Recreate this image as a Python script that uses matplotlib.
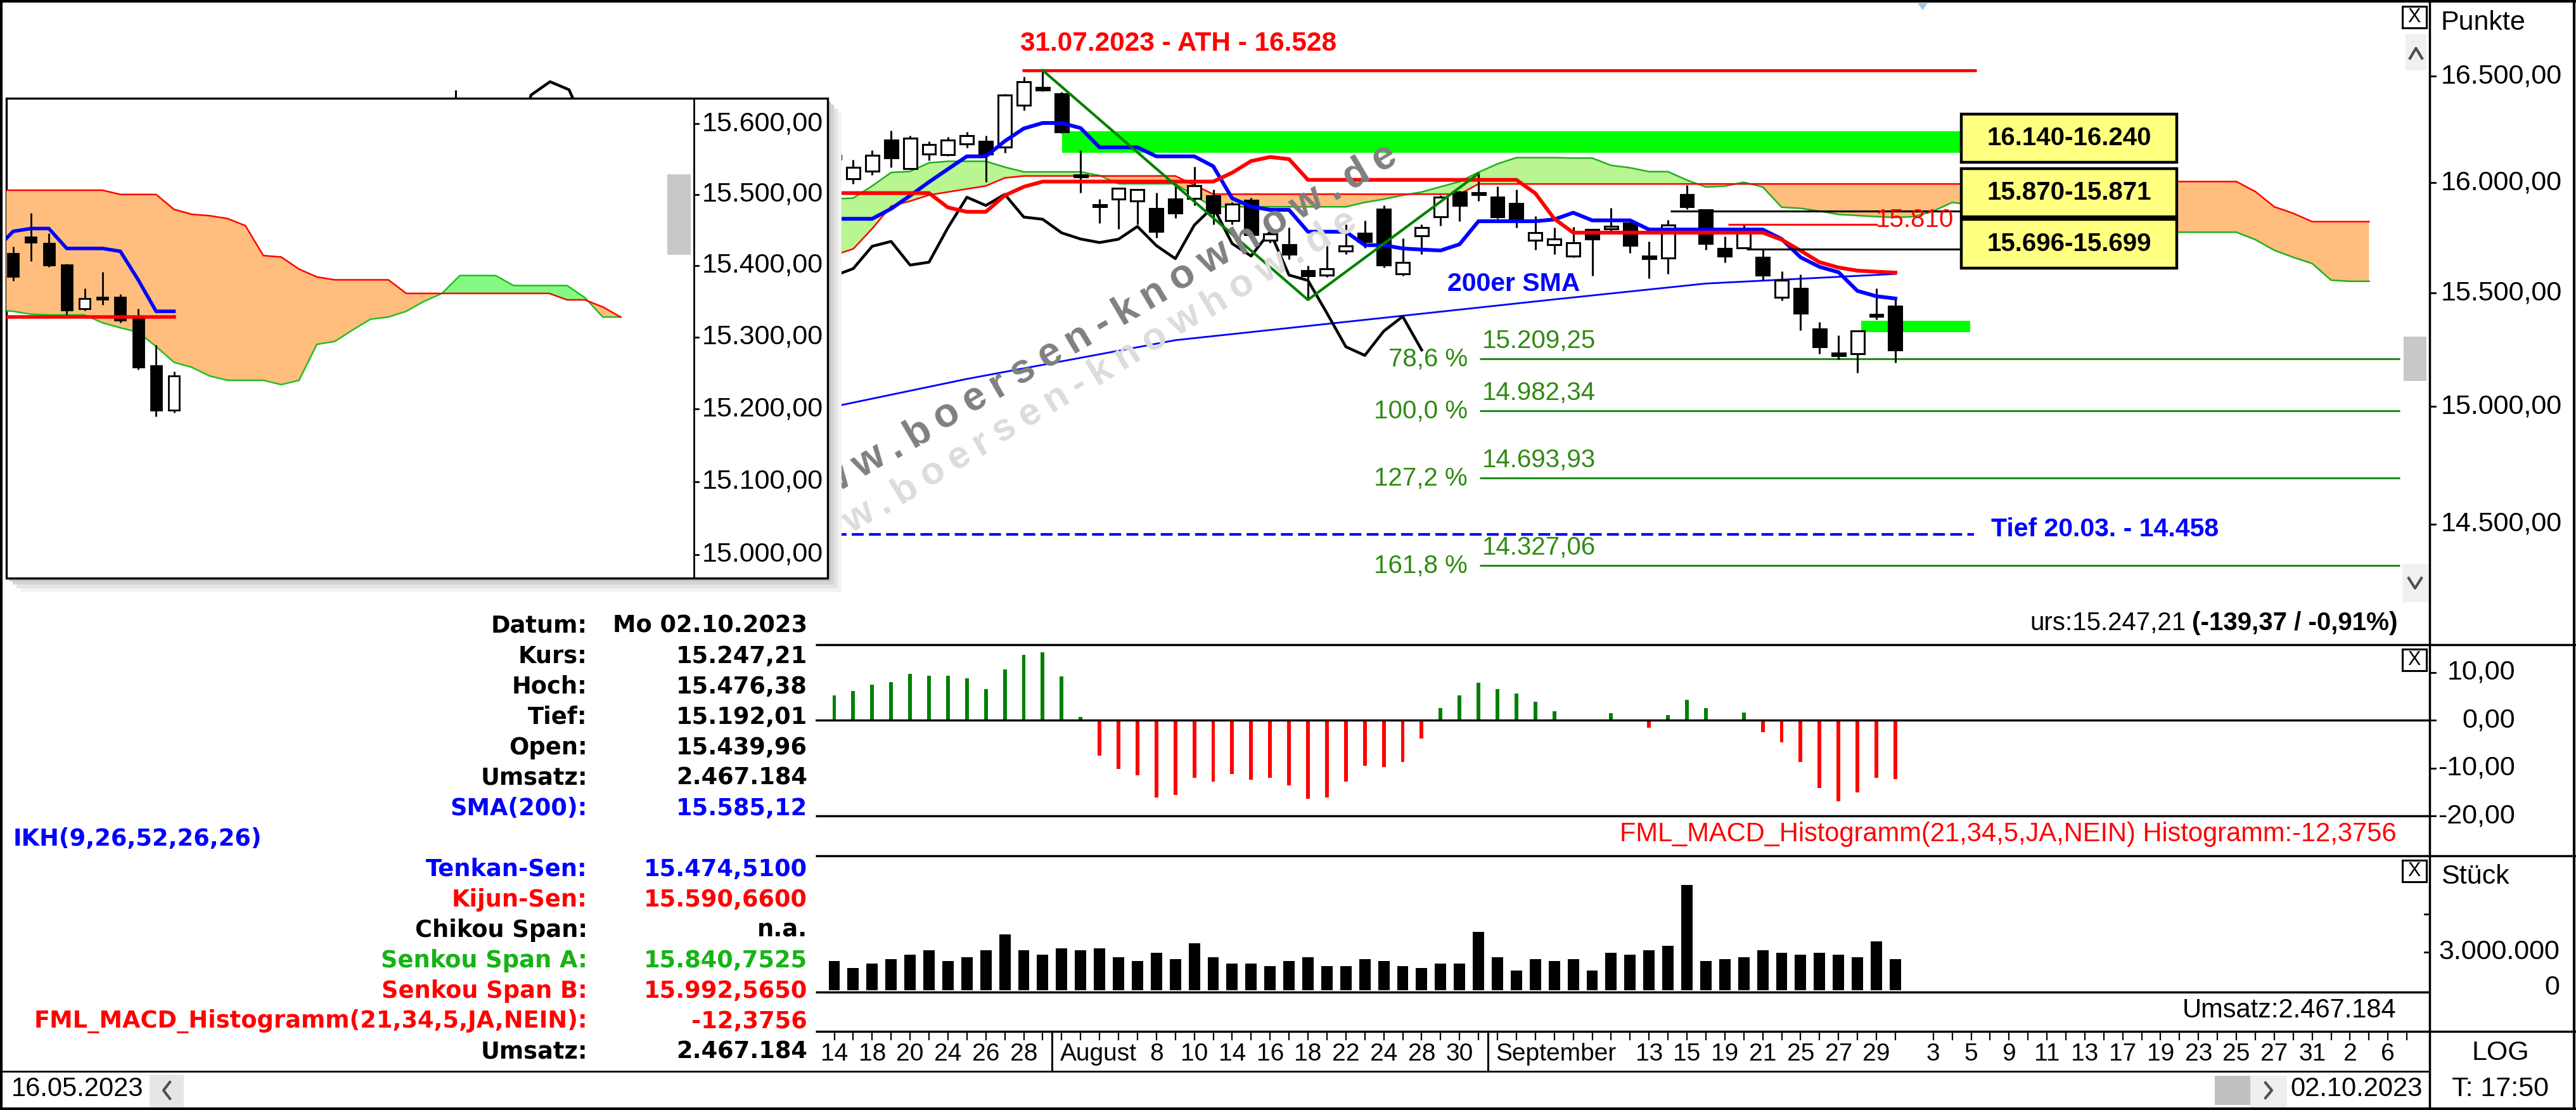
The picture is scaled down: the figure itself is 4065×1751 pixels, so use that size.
import numpy as np
import matplotlib
matplotlib.use("Agg")
import matplotlib.pyplot as plt
from matplotlib.patches import Rectangle, Polygon
from matplotlib.transforms import offset_copy
from matplotlib import font_manager

plt.rcParams["font.family"] = ["Liberation Sans", "DejaVu Sans"]

# DAX daily, bar 0 = 14.07.2023 ... bar 56 = 02.10.2023
opens = [16128, 16018, 16053, 16199, 16067, 16134, 16131, 16182, 16193, 16167,
         16363, 16446, 16417, 16038, 15898, 15926, 15917, 15881, 15926, 15929,
         15939, 15828, 15920, 15737, 15718, 15600, 15581, 15689, 15768, 15879,
         15585, 15758, 15843, 15958, 15955, 15934, 15905, 15737, 15718, 15666,
         15786, 15790, 15814, 15665, 15656, 15947, 15877, 15699, 15703, 15660,
         15481, 15521, 15339, 15232, 15231, 15405, 15440]
highs = [16150, 16106, 16152, 16244, 16219, 16193, 16214, 16236, 16221, 16416,
         16497, 16528, 16427, 16150, 15926, 15979, 15972, 15954, 15996, 16075,
         15968, 15911, 15930, 15795, 15795, 15623, 15718, 15808, 15828, 15897,
         15747, 15808, 15944, 15963, 16043, 15983, 15968, 15848, 15795, 15797,
         15790, 15884, 15818, 15731, 15829, 15991, 15880, 15755, 15811, 15699,
         15598, 15584, 15370, 15312, 15335, 15521, 15476]
lows = [16077, 15996, 16036, 16072, 16062, 16104, 16125, 16163, 16004, 16139,
        16340, 16430, 16230, 15955, 15815, 15789, 15808, 15750, 15838, 15895,
        15808, 15808, 15750, 15725, 15652, 15469, 15570, 15675, 15703, 15614,
        15577, 15675, 15803, 15823, 15916, 15835, 15795, 15694, 15675, 15660,
        15576, 15770, 15680, 15566, 15585, 15880, 15694, 15637, 15700, 15556,
        15467, 15334, 15230, 15204, 15146, 15382, 15192]
closes = [16110, 16072, 16129, 16117, 16209, 16178, 16199, 16221, 16134, 16411,
          16474, 16436, 16238, 16028, 15890, 15974, 15968, 15779, 15862, 15988,
          15862, 15901, 15763, 15766, 15675, 15577, 15609, 15710, 15732, 15625,
          15638, 15795, 15934, 15896, 15947, 15843, 15833, 15771, 15743, 15727,
          15742, 15800, 15713, 15654, 15806, 15890, 15722, 15666, 15776, 15580,
          15556, 15410, 15261, 15223, 15330, 15395, 15247]
volumes_mio = [2.28, 1.73, 2.10, 2.43, 2.80, 3.15, 2.28, 2.60, 3.15, 4.38,
               3.15, 2.80, 3.32, 3.15, 3.32, 2.60, 2.28, 2.97, 2.43, 3.69,
               2.60, 2.10, 2.10, 1.90, 2.28, 2.60, 1.90, 1.90, 2.43, 2.28,
               1.90, 1.73, 2.10, 2.10, 4.58, 2.60, 1.56, 2.43, 2.28, 2.43,
               1.56, 2.97, 2.80, 3.15, 3.52, 8.30, 2.28, 2.43, 2.60, 3.15,
               2.97, 2.80, 2.97, 2.80, 2.60, 3.84, 2.467]
macd_hist = [5.2, 6.1, 7.4, 7.9, 9.7, 9.3, 9.3, 8.8, 6.5, 10.6,
             13.7, 14.2, 9.2, 0.6, -7.4, -10.2, -11.5, -16.1, -15.6, -12.0,
             -12.9, -11.2, -12.4, -12.0, -13.7, -16.4, -16.1, -12.9, -9.6, -9.8,
             -8.8, -3.8, 2.5, 5.1, 7.8, 6.5, 5.6, 3.8, 1.9, 0.0,
             0.0, 1.5, 0.0, -1.6, 1.1, 4.2, 2.5, 0.0, 1.6, -2.5,
             -4.7, -8.8, -14.2, -16.9, -15.1, -12.0, -12.38]

# Ichimoku, bars -1..56
tenkan = [15835, 15835, 15835, 15835, 15881, 15941, 16004, 16064, 16123, 16123,
          16194, 16253, 16279, 16279, 16255, 16165, 16165, 16165, 16123, 16123,
          16123, 16077, 15929, 15891, 15876, 15876, 15776, 15776, 15776, 15715,
          15715, 15700, 15695, 15691, 15719, 15824, 15824, 15824, 15824, 15832,
          15863, 15828, 15828, 15828, 15786, 15786, 15786, 15786, 15786, 15786,
          15786, 15743, 15660, 15617, 15593, 15509, 15485, 15475]
kijun = [15953, 15953, 15953, 15953, 15953, 15953, 15953, 15887, 15867, 15867,
         15942, 15982, 16006, 16006, 16006, 16006, 16006, 16006, 16006, 16006,
         16006, 16006, 16047, 16101, 16120, 16110, 16014, 16014, 16014, 16014,
         16014, 16014, 16014, 16014, 16014, 16014, 16014, 16014, 15952, 15835,
         15772, 15772, 15772, 15772, 15772, 15772, 15772, 15772, 15772, 15772,
         15772, 15740, 15690, 15638, 15614, 15600, 15595, 15591]
# Senkou spans, bars -1..81
senkou_a = [15926, 15926, 15930, 15986, 16048, 16053, 16093, 16100, 16100, 16100,
            16073, 16051, 16051, 16051, 16051, 16034, 15996, 15996, 15996, 15996,
            15940, 15890, 15890, 15890, 15890, 15890, 15890, 15890, 15890, 15910,
            15925, 15943, 15958, 15982, 16006, 16049, 16088, 16117, 16117, 16117,
            16115, 16115, 16081, 16070, 16052, 16052, 16013, 15981, 15985, 16003,
            15981, 15888, 15883, 15870, 15855, 15850, 15845, 15841, 15845, 15870,
            15910, 15900, 15880, 15860, 15840, 15830, 15820, 15810, 15800, 15790,
            15780, 15774, 15774, 15774, 15774, 15774, 15740, 15692, 15660, 15632,
            15557, 15552, 15552]
senkou_b = [15610, 15670, 15698, 15790, 15893, 15916, 15944, 15958, 15972, 15986,
            16023, 16032, 16032, 16032, 16032, 16032, 16032, 16032, 16032, 16032,
            15990, 15948, 15948, 15948, 15948, 15948, 15948, 15948, 15948, 15948,
            15948, 15948, 15948, 15948, 15948, 15995, 15995, 15995, 15995, 15995,
            15995, 15995, 15995, 15995, 15995, 15995, 15995, 15995, 15995, 15995,
            15995, 15995, 15995, 15995, 15995, 15995, 15995, 15995, 15995, 15995,
            15995, 15995, 15995, 15995, 15995, 15995, 15995, 15995, 15995, 15995,
            15995, 16006, 16006, 16006, 16006, 16006, 15960, 15890, 15860, 15822,
            15822, 15822, 15822]
sma_bars = [-1, 0, 7, 18, 28, 38, 46, 56]
sma_vals = [14990, 15000, 15120, 15290, 15380, 15471, 15542, 15585]

old_bar = -20                      # 16.06.2023, only the wick shows above the inset
old_ohlc = (16330, 16435, 16280, 16290)

ath = 16528
zone_top = (16140, 16240)
zone_low = (15325, 15375)
black_levels = [15870, 15696]
red_level = 15810
march_low = 14458
swing_bars = [11, 25, 34]
swing_prices = [16528, 15469, 16043]
fib_levels = [15209.25, 14982.34, 14693.93, 14327.06]
fib_names = ["78,6 %", "100,0 %", "127,2 %", "161,8 %"]
box_texts = ["16.140-16.240", "15.870-15.871", "15.696-15.699"]
price_ticks = [14500, 15000, 15500, 16000, 16500]
macd_ticks = [10, 0, -10, -20]

# inset: hourly bars of 02.10.2023
in_open = [15417, 15440, 15431, 15401, 15340, 15356, 15356, 15326, 15260, 15199]
in_high = [15427, 15474, 15445, 15403, 15368, 15391, 15360, 15340, 15289, 15252]
in_low = [15379, 15406, 15398, 15332, 15337, 15345, 15320, 15255, 15190, 15195]
in_close = [15385, 15433, 15401, 15338, 15354, 15353, 15324, 15258, 15199, 15246]
in_line_bars = [-1, 0, 1, 2, 3, 4, 5, 6, 7, 8, 9]
in_tenkan = [15422, 15448, 15452, 15452, 15424, 15424, 15424, 15420, 15380, 15336, 15336]
in_kijun = [15328, 15328, 15328, 15328, 15328, 15328, 15328, 15328, 15328, 15328, 15328]
# bars -1..34
in_senkou_a = [15338, 15336, 15332, 15331, 15331, 15331, 15320, 15313, 15307, 15287,
               15265, 15258, 15246, 15240, 15240, 15240, 15234, 15240, 15290, 15294,
               15310, 15325, 15328, 15336, 15350, 15361, 15386, 15386, 15386, 15372,
               15372, 15372, 15372, 15355, 15328, 15328]
in_senkou_b = [15506, 15506, 15506, 15506, 15506, 15506, 15506, 15500, 15500, 15500,
               15479, 15472, 15470, 15466, 15456, 15414, 15412, 15395, 15384, 15380,
               15380, 15380, 15380, 15361, 15361, 15361, 15361, 15361, 15361, 15361,
               15361, 15361, 15352, 15352, 15342, 15328]
in_ticks = [15000, 15100, 15200, 15300, 15400, 15500, 15600]

date_labels = [(0, "14"), (2, "18"), (4, "20"), (6, "24"), (8, "26"), (10, "28"),
               (17, "8"), (19, "10"), (21, "14"), (23, "16"), (25, "18"), (27, "22"),
               (29, "24"), (31, "28"), (33, "30"),
               (43, "13"), (45, "15"), (47, "19"), (49, "21"), (51, "25"), (53, "27"),
               (55, "29"),
               (58, "3"), (60, "5"), (62, "9"), (64, "11"), (66, "13"), (68, "17"),
               (70, "19"), (72, "23"), (74, "25"), (76, "27"), (78, "31"), (80, "2"),
               (82, "6")]
month_marks = [(11.5, "August"), (34.5, "September")]

info_rows = [("Datum:", "Mo 02.10.2023", "black"),
             ("Kurs:", "15.247,21", "black"),
             ("Hoch:", "15.476,38", "black"),
             ("Tief:", "15.192,01", "black"),
             ("Open:", "15.439,96", "black"),
             ("Umsatz:", "2.467.184", "black"),
             ("SMA(200):", "15.585,12", "#0000ff"),
             ("IKH(9,26,52,26,26)", None, "#0000ff"),
             ("Tenkan-Sen:", "15.474,5100", "#0000ff"),
             ("Kijun-Sen:", "15.590,6600", "#ff0000"),
             ("Chikou Span:", "n.a.", "black"),
             ("Senkou Span A:", "15.840,7525", "#14b414"),
             ("Senkou Span B:", "15.992,5650", "#ff0000"),
             ("FML_MACD_Histogramm(21,34,5,JA,NEIN):", "-12,3756", "#ff0000"),
             ("Umsatz:", "2.467.184", "black")]

watermark = "www.boersen-knowhow.de"
# advance widths (em) of the bold sans used for the watermark
advance = {"w": .778, ".": .278, "b": .611, "o": .611, "e": .556, "r": .389, "s": .556,
           "n": .611, "-": .333, "k": .556, "h": .611, "d": .611}


def de(v, nd=2):
    s = f"{v:,.{nd}f}"
    return s.replace(",", "#").replace(".", ",").replace("#", ".")


W, H = 4065, 1751
fig = plt.figure(figsize=(W / 100, H / 100), dpi=100)
fig.patch.set_facecolor("white")

names = {f.name for f in font_manager.fontManager.ttflist}
narrow = "Liberation Sans Narrow" if "Liberation Sans Narrow" in names else None


def fbox(x0, y0, x1, y1):
    return [x0 / W, 1 - y1 / H, (x1 - x0) / W, (y1 - y0) / H]


X0, DX = 1316.5, 29.9       # pixel of bar 0, bar spacing
L, R = 3, 3834


def xb(px):
    return (px - X0) / DX


def frac(px, a=L, b=R):
    return (px - a) / (b - a)


def p_main(py):
    return 16528 * np.exp((111 - py) / 5467)


def clean(a):
    for s in a.spines.values():
        s.set_visible(False)
    a.set_xticks([])
    a.set_yticks([])
    a.set_yticks([], minor=True)
    a.patch.set_alpha(0)


XLIM = (xb(L), xb(R))
bars = np.arange(len(closes))
o, h, l, c = map(np.array, (opens, highs, lows, closes))

# ---------------- main price panel
ax = fig.add_axes(fbox(L, 3, R, 1017))
ax.set_yscale("log")
ax.set_xlim(*XLIM)
ax.set_ylim(p_main(1017), p_main(3))
clean(ax)

cb = np.arange(-1, len(senkou_a) - 1)
sa, sb = np.array(senkou_a), np.array(senkou_b)
ax.fill_between(cb, sa, sb, where=sa >= sb, interpolate=True, color="#b9f590", lw=0, zorder=1)
ax.fill_between(cb, sa, sb, where=sa <= sb, interpolate=True, color="#ffbe7d", lw=0, zorder=1)
ax.plot(cb, sa, color="#1fae1f", lw=1.8, zorder=1.5)
ax.plot(cb, sb, color="#ff0000", lw=1.8, zorder=1.5)

ax.add_patch(Rectangle((xb(1676), zone_top[0]), xb(3095) - xb(1676), zone_top[1] - zone_top[0],
                       color="#00ff00", lw=0, zorder=2))
ax.add_patch(Rectangle((xb(2937), zone_low[0]), xb(3109) - xb(2937), zone_low[1] - zone_low[0],
                       color="#00ff00", lw=0, zorder=2))
ax.plot(sma_bars, sma_vals, color="#0000ff", lw=2.0, zorder=2.5)
ax.plot(bars - 25, closes, color="black", lw=3.2, zorder=3)
ax.hlines(fib_levels, swing_bars[-1] + 0.05, xb(3787), color="#1c8c1c", lw=2.2, zorder=3.5)

ax.vlines(bars, l, h, color="black", lw=2.2, zorder=4)
ax.bar(bars, np.abs(c - o), bottom=np.minimum(o, c), width=0.7,
       color=np.where(c >= o, "white", "black"), edgecolor="black", lw=2.2, zorder=4.5)
ax.vlines(old_bar, old_ohlc[2], old_ohlc[1], color="black", lw=2.2, zorder=4)

ax.plot(np.arange(-1, len(tenkan) - 1), tenkan, color="#0000ff", lw=4.3, zorder=5)
ax.plot(np.arange(-1, len(kijun) - 1), kijun, color="#ff0000", lw=4.3, zorder=5.1)

ax.hlines(ath, xb(1613), xb(3119), color="#ff0000", lw=3.5, zorder=6)
ax.hlines(black_levels[0], xb(2636), xb(3095), color="black", lw=2.2, zorder=6)
ax.hlines(black_levels[1], xb(2756), xb(3095), color="black", lw=2.2, zorder=6)
ax.hlines(red_level, xb(2727), xb(2963), color="#ff0000", lw=2.2, zorder=6)
ax.hlines(march_low, xb(1290), xb(3115), color="#0000ff", lw=3.0, linestyles=(0, (4.5, 2)), zorder=6)
ax.plot(swing_bars, swing_prices, color="#008000", lw=3.0, zorder=6.5)

if narrow:
    ax.text(xb(1610), p_main(80), "31.07.2023 - ATH - 16.528", color="#ff0000", fontsize=31,
            family=[narrow, "DejaVu Sans"], fontweight="bold", ha="left", va="baseline", zorder=7)
else:
    ax.text(xb(1610), p_main(80), "31.07.2023 - ATH - 16.528", color="#ff0000", fontsize=30.5,
            fontweight="bold", ha="left", va="baseline", zorder=7)
above = offset_copy(ax.transData, fig=fig, x=0, y=17, units="dots")
below = offset_copy(ax.transData, fig=fig, x=0, y=-12, units="dots")
for lv, nm in zip(fib_levels, fib_names):
    ax.text(xb(2316), lv, nm, transform=below, color="#2f8a12", fontsize=29,
            ha="right", va="baseline", zorder=7)
    ax.text(xb(2339), lv, de(lv), transform=above, color="#2f8a12", fontsize=29,
            ha="left", va="baseline", zorder=7)
ax.text(xb(2284), p_main(459), "200er SMA", color="#0000ff", fontsize=29.5,
        fontweight="bold", ha="left", va="baseline", zorder=7)
ax.text(xb(3142), p_main(846), "Tief 20.03. - 14.458", color="#0000ff", fontsize=29.5,
        fontweight="bold", ha="left", va="baseline", zorder=7)
ax.text(xb(2960), p_main(347), "15.810", color="#ff0000", fontsize=29,
        ha="left", va="center", zorder=7)


def put_watermark(x0, y0, size, track, ang, col):
    em = size * 100 / 72
    ux, uy = np.cos(np.radians(ang)), -np.sin(np.radians(ang))
    t = 0.0
    for ch in watermark:
        ax.text((x0 + t * ux) / W, 1 - (y0 + t * uy) / H, ch, transform=fig.transFigure,
                rotation=ang, rotation_mode="anchor", ha="left", va="baseline",
                fontsize=size, fontweight="bold", color=col, zorder=8)
        t += advance[ch] * em + track


put_watermark(1240, 905, 44, 13, 31.2, "#dcdcdc")
put_watermark(1248, 820, 46, 14, 30.5, "#808080")

box_px = [(180, 256), (266, 342), (346, 423)]
for (ty, by), txt in zip(box_px, box_texts):
    ax.add_patch(Rectangle((xb(3095), p_main(by)), xb(3435) - xb(3095), p_main(ty) - p_main(by),
                           facecolor="#ffff80", edgecolor="black", lw=3.2, zorder=9))
    ax.text((xb(3095) + xb(3435)) / 2, p_main((ty + by) / 2), txt, fontsize=29,
            fontweight="bold", ha="center", va="center", zorder=9.5)

ytr = ax.get_yaxis_transform()
for v in price_ticks:
    ax.text(frac(3852), v, de(v), transform=ytr, fontsize=31, ha="left", va="center", clip_on=False)
    ax.plot([frac(3834), frac(3843)], [v, v], transform=ytr, color="black", lw=2, clip_on=False)

# ---------------- MACD histogram
axm = fig.add_axes(fbox(L, 1017, R, 1287))
axm.set_xlim(*XLIM)
axm.set_ylim((1136 - 1287) / 7.55, (1136 - 1017) / 7.55)
clean(axm)
mh = np.array(macd_hist)
axm.bar(bars, mh, width=0.2, color=np.where(mh >= 0, "#008000", "#ff0000"), zorder=2)
axm.axhline(0, color="black", lw=2.4, zorder=3)
mtr = axm.get_yaxis_transform()
for v in macd_ticks:
    axm.text(frac(3969), v, de(v), transform=mtr, fontsize=31, ha="right", va="center", clip_on=False)
    axm.plot([frac(3834), frac(3843)], [v, v], transform=mtr, color="black", lw=2, clip_on=False)

# ---------------- volume
axv = fig.add_axes(fbox(L, 1350, R, 1565))
axv.set_xlim(*XLIM)
axv.set_ylim((1562 - 1565) / 20, (1562 - 1350) / 20)
clean(axv)
axv.bar(bars, volumes_mio, width=0.6, color="black", zorder=2)
vtr = axv.get_yaxis_transform()
axv.text(frac(4039), 3, "3.000.000", transform=vtr, fontsize=31, ha="right", va="center", clip_on=False)
axv.text(frac(4039), 0.2, "0", transform=vtr, fontsize=31, ha="right", va="center", clip_on=False)
for v in (3, 6):
    axv.plot([frac(3826), frac(3834)], [v, v], transform=vtr, color="black", lw=2, clip_on=False)

# ---------------- date axis
axd = fig.add_axes(fbox(L, 1627, R, 1690))
axd.set_xlim(*XLIM)
axd.set_ylim(0, 63)
clean(axd)
tick_bars = list(range(0, 57)) + list(range(58, 84))
axd.vlines(tick_bars, 49, 63, color="black", lw=1.6)
axd.vlines([m for m, _ in month_marks], 0, 63, color="black", lw=2.2)
for b, s in date_labels:
    axd.text(b, 27, s, fontsize=28, ha="center", va="center")
for b, s in month_marks:
    axd.text(b + 0.42, 27, s, fontsize=28, ha="left", va="center")

# ---------------- overlay: frames, info table, inset frame, widgets
pix = fig.add_axes([0, 0, 1, 1], zorder=5)
pix.set_xlim(0, W)
pix.set_ylim(H, 0)
pix.axis("off")


def hl(y, x0, x1, lw=2.5, col="black"):
    pix.plot([x0, x1], [y, y], color=col, lw=lw, solid_capstyle="butt")


def vl(x, y0, y1, lw=2.5, col="black"):
    pix.plot([x, x], [y0, y1], color=col, lw=lw, solid_capstyle="butt")


# inset background with soft shadow
IL, IR, IT, IB, IW = 10, 1095, 155, 912, 1306
for off, col in [(22, "#f2f2f2"), (16, "#e4e4e4"), (10, "#d4d4d4"), (5, "#c2c2c2")]:
    pix.add_patch(Rectangle((IL + off, IT + off), IW - IL, IB - IT, color=col, lw=0))
pix.add_patch(Rectangle((IL, IT), IW - IL, IB - IT, facecolor="white", edgecolor="black", lw=2.4))
vl(IR, IT, IB, lw=2)
pix.add_patch(Rectangle((1053, 275), 37, 127, color="#c8c8c8", lw=0))

# info box over the lower panels
pix.add_patch(Rectangle((3, 935), 1284, 754, color="white", lw=0))
TB = dict(family=["DejaVu Sans"], fontweight="bold", fontsize=26.5)
for k, (lab, val, col) in enumerate(info_rows):
    y = 987 + 48.03 * k
    if val is None:
        pix.text(21, y, lab, color=col, ha="left", va="center", **TB)
    else:
        pix.text(927, y, lab, color=col, ha="right", va="center", **TB)
        pix.text(1274, y, val, color=col, ha="right", va="center", **TB)

# frame lines
hl(2, 0, W, lw=3)
hl(1749, 0, W, lw=3)
vl(2, 0, H, lw=3)
vl(4062, 0, H, lw=3)
vl(R, 0, H, lw=2.5)
hl(1017, 1287, W)
hl(1287, 1287, R)
hl(1350, 1287, W)
hl(1565, 1287, R)
hl(1627, 1287, W)
hl(1690, 0, R, lw=2)

# close boxes and scroll widgets
for y0 in (10, 1024, 1357):
    pix.add_patch(Rectangle((3791, y0), 38, 34, facecolor="white", edgecolor="black", lw=2.2))
    pix.text(3810, y0 + 17, "X", fontsize=22, ha="center", va="center")
pix.add_patch(Rectangle((3796, 54), 33, 57, color="#f0f0f0", lw=0))
pix.plot([3803, 3812.5, 3822], [92, 76, 92], color="#505050", lw=3)
pix.add_patch(Rectangle((3791, 890), 41, 60, color="#f0f0f0", lw=0))
pix.plot([3801, 3811, 3821], [912, 928, 912], color="#505050", lw=3)
pix.add_patch(Rectangle((3793, 531), 36, 70, color="#c8c8c8", lw=0))
pix.add_patch(Polygon([(3026, 5), (3042, 5), (3034, 16)], color="#9cc8f0", lw=0))

pix.text(3852, 36, "Punkte", fontsize=31, ha="left", va="center")
pix.text(3852, 1383, "Stück", fontsize=31, ha="left", va="center")
pix.text(3946, 1661, "LOG", fontsize=31, ha="center", va="center")
pix.text(3946, 1718, "T: 17:50", fontsize=31, ha="center", va="center")

pix.text(18, 1718, "16.05.2023", fontsize=30, ha="left", va="center")
pix.add_patch(Rectangle((236, 1695), 54, 52, color="#e6e6e6", lw=0))
pix.plot([268, 258, 268], [1707, 1720, 1733], color="#505050", lw=3)
pix.add_patch(Rectangle((3495, 1697), 56, 46, color="#c0c0c0", lw=0))
pix.add_patch(Rectangle((3551, 1697), 58, 50, color="#eeeeee", lw=0))
pix.plot([3575, 3585, 3575], [1708, 1720, 1732], color="#505050", lw=3)
pix.text(3614, 1718, "02.10.2023", fontsize=30, ha="left", va="center")

pix.text(3782, 1316, "FML_MACD_Histogramm(21,34,5,JA,NEIN) Histogramm:-12,3756",
         color="#ff0000", fontsize=30, ha="right", va="center")
pix.text(3782, 1594, "Umsatz:2.467.184", fontsize=30, ha="right", va="center")
kb = pix.text(3784, 983, "(-139,37 / -0,91%)", fontsize=29, fontweight="bold",
              ha="right", va="center")

# ---------------- inset (hourly chart)
def p_in(py):
    return 15600 * np.exp(-(py - 195.3) / 17330)


def jb(px):
    return (px - 20.7) / 28.2


axi = fig.add_axes(fbox(IL, IT, IR, IB), zorder=10)
axi.set_yscale("log")
axi.set_xlim(jb(IL), jb(IR))
axi.set_ylim(p_in(IB), p_in(IT))
clean(axi)
jj = np.arange(-1, len(in_senkou_a) - 1)
ia, ib = np.array(in_senkou_a), np.array(in_senkou_b)
axi.fill_between(jj, ia, ib, where=ia >= ib, interpolate=True, color="#84fa84", lw=0, zorder=1)
axi.fill_between(jj, ia, ib, where=ia <= ib, interpolate=True, color="#ffbe7d", lw=0, zorder=1)
axi.plot(jj, ia, color="#1fbe1f", lw=1.8, zorder=1.5)
axi.plot(jj, ib, color="#ff0000", lw=1.8, zorder=1.5)
ib_ = np.arange(len(in_close))
io, ih, il, ic = map(np.array, (in_open, in_high, in_low, in_close))
axi.vlines(ib_, il, ih, color="black", lw=2, zorder=4)
axi.bar(ib_, np.abs(ic - io), bottom=np.minimum(io, ic), width=0.6,
        color=np.where(ic >= io, "white", "black"), edgecolor="black", lw=2, zorder=4.5)
axi.plot(in_line_bars, in_kijun, color="#ff0000", lw=4.0, zorder=5)
axi.plot(in_line_bars, in_tenkan, color="#0000ff", lw=4.0, zorder=5.1)
itr = axi.get_yaxis_transform()
for v in in_ticks:
    axi.text(frac(1299, IL, IR), v, de(v), transform=itr, fontsize=31, ha="right",
             va="center", clip_on=False)
    axi.plot([frac(1095, IL, IR), frac(1102, IL, IR)], [v, v], transform=itr,
             color="black", lw=2, clip_on=False)

fig.canvas.draw()
x_left = kb.get_window_extent().x0
pix.text(x_left - 10, 983, "urs:15.247,21", fontsize=29, ha="right", va="center")

fig.savefig("out.png", dpi=100)
